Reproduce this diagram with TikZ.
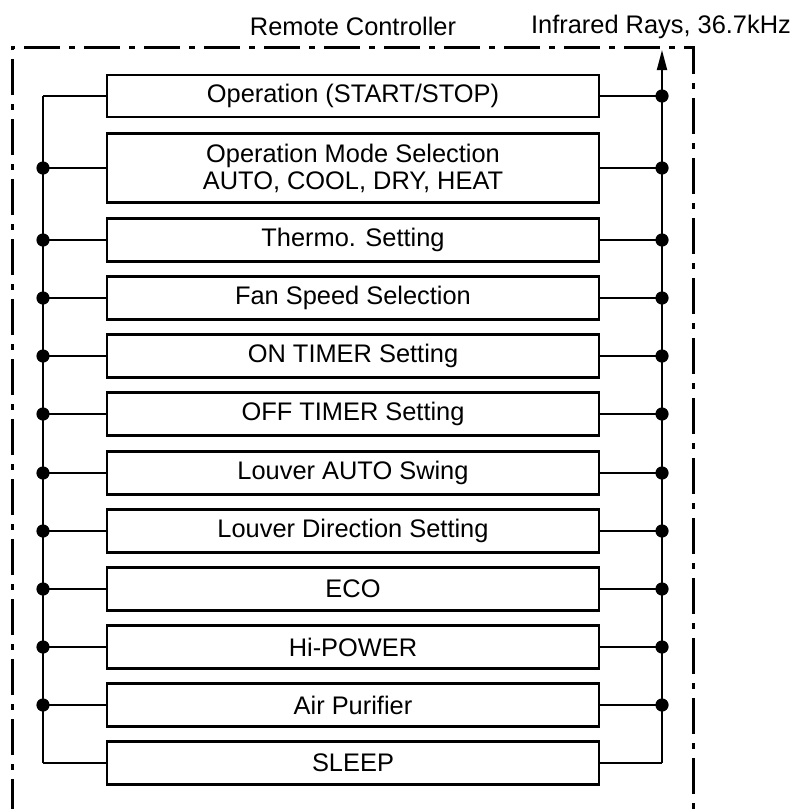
\documentclass[tikz,border=0pt]{standalone}
\usepackage{fontspec}
\setmainfont{Liberation Sans}
\usetikzlibrary{arrows.meta}

\tikzset{
  func/.style={draw, line width=1.4pt, minimum width=246pt, minimum height=21.5pt,
    inner sep=0pt, align=center, font=\fontsize{12.7}{13.5}\selectfont},
  bus/.style={line width=0.9pt},
  frame/.style={line width=1.5pt, dash pattern=on 18pt off 4.5pt on 3pt off 4.5pt},
  joint/.style={fill=black}
}

\begin{document}
\begin{tikzpicture}[x=0.5pt, y=-0.5pt]
  \useasboundingbox (0,0) rectangle (800,809);

  % Remote controller outline (open at the bottom)
  \draw[frame] (12,815) -- (12,47) -- (693,47) -- (693,815);
  \node[anchor=base, font=\fontsize{12.7}{15}\selectfont] (rc) at (353,35) {Remote Controller};
  \node[anchor=base, font=\fontsize{12.7}{15}\selectfont] (ir) at (661,33) {Infrared Rays, 36.7kHz};

  % Function boxes
  \node[func, minimum height=21pt] (b1) at (353,96) {Operation (START/STOP)};
  \node[func, minimum height=34.5pt] (b2) at (353,168) {Operation Mode Selection\\AUTO, COOL, DRY, HEAT};
  \foreach \n/\y/\txt in {3/240/Thermo. Setting, 4/298/Fan Speed Selection,
      5/356/ON TIMER Setting, 6/414/OFF TIMER Setting, 7/473/Louver AUTO Swing,
      8/531/Louver Direction Setting, 9/589/ECO, 10/647/Hi-POWER,
      11/705/Air Purifier, 12/763/SLEEP} {
    \node[func] (b\n) at (353,\y) {\txt};
  }

  % Bus lines
  \coordinate (busL) at (43,96);
  \coordinate (busR) at (662,96);
  \coordinate (tx) at (662,50);
  \foreach \n in {1,...,12} {
    \draw[bus] (b\n.west) -- (b\n.west -| busL);
    \draw[bus] (b\n.east) -- (b\n.east -| busR);
  }
  \draw[bus] (b1.west -| busL) -- (b12.west -| busL);
  \draw[bus, -{Triangle[length=10pt, width=5pt]}] (b12.east -| busR) -- (tx);

  % Junction dots
  \foreach \n in {2,...,11}
    \fill[joint] (b\n.west -| busL) circle (3.3pt);
  \foreach \n in {1,...,11}
    \fill[joint] (b\n.east -| busR) circle (3.3pt);

\end{tikzpicture}
\end{document}
